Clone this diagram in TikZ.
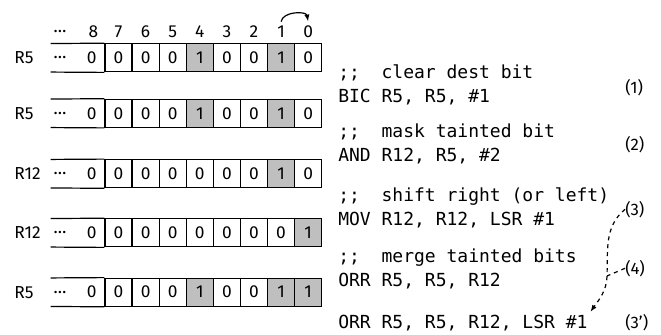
\documentclass[tikz,border=0pt]{standalone}
\usepackage{fontspec}
\setsansfont{Fira Sans}
\setmonofont{DejaVu Sans Mono}
\usetikzlibrary{arrows.meta,positioning,calc}
\tikzset{
    bitcell/.style={
        draw,
        line width=0.9pt,
        minimum width=20.3pt,
        minimum height=21pt,
        inner sep=0pt,
        font=\sffamily\fontsize{13}{15}\selectfont
    },
    lead/.style={
        minimum width=40.5pt,
        minimum height=21pt,
        inner sep=0pt
    },
    bitnum/.style={
        inner sep=1pt,
        font=\sffamily\fontsize{13}{15}\selectfont
    },
    reglbl/.style={
        anchor=west,
        inner sep=0pt,
        font=\sffamily\fontsize{13}{15}\selectfont
    },
    code/.style={
        anchor=west,
        align=left,
        inner sep=0pt,
        font=\ttfamily\fontsize{13.5}{18}\selectfont
    },
    steplbl/.style={
        anchor=west,
        inner sep=0pt,
        font=\sffamily\fontsize{12.5}{14}\selectfont
    },
    arrow/.style={
        -{Latex[length=1.8mm]},
        line width=0.9pt
    },
    dashedarrow/.style={
        -{Latex[length=1.8mm]},
        line width=0.9pt,
        dashed
    }
}

\begin{document}
\begin{tikzpicture}[x=0.75pt,y=-0.75pt]
\useasboundingbox (0,0) rectangle (661,335);

% bit numbers
\node[bitnum] (h-dots) at (60,31.7) {…};
\node[bitnum] (h-8) at (93.3,31.7) {8};
\foreach \b in {7,...,0}
    \node[bitnum] (h-\b) at ({321.7-27.09*(\b+0.5)},31.7) {\b};
\draw[arrow] ([yshift=2pt]h-1.north) to[bend left=80] ([yshift=2pt]h-0.north);

% registers
\foreach \r/\reg/\y/\bits in {
        1/R5/57.8/{0,0,0,1,0,0,1,0},
        2/R5/113.3/{0,0,0,1,0,0,1,0},
        3/R12/173.7/{0,0,0,0,0,0,1,0},
        4/R12/232.8/{0,0,0,0,0,0,0,1},
        5/R5/292.2/{0,0,0,1,0,0,1,1}} {
    \node[reglbl] (lbl\r) at (14,\y) {\reg};
    \node[lead] (lead\r) at (78,\y) {};
    \node[bitnum] (dots\r) at (60,\y) {…};
    \node[bitnum] (c\r-8) at (91.6,\y) {0};
    \foreach \v [count=\i from 0] in \bits {
        \pgfmathtruncatemacro\b{7-\i}
        \ifnum\v=1 \def\fc{black!25}\else\def\fc{white}\fi
        \node[bitcell, fill=\fc] (c\r-\b) at ({321.7-27.09*(\b+0.5)},\y) {\v};
    }
    \draw[line width=0.9pt] (lead\r.north west) -- (c\r-7.north west);
    \draw[line width=0.9pt] (lead\r.south west) -- (c\r-7.south west);
}

% instructions
\node[code] (ins1) at (338,84.7) {;;\ \ clear dest bit\\BIC R5, R5, \#1};
\node[code] (ins2) at (338,143.5) {;;\ \ mask tainted bit\\AND R12, R5, \#2};
\node[code] (ins3) at (338,208.3) {;;\ \ shift right (or left)\\MOV R12, R12, LSR \#1};
\node[code] (ins4) at (338,268.5) {;;\ \ merge tainted bits\\ORR R5, R5, R12};
\node[code] (ins5) at (338,322.7) {ORR R5, R5, R12, LSR \#1};

\node[steplbl] (s1) at (625,87.7) {(1)};
\node[steplbl] (s2) at (625,144.3) {(2)};
\node[steplbl] (s3) at (625,209.3) {(3)};
\node[steplbl] (s4) at (625,268.3) {(4)};
\node[steplbl] (s3p) at (625,322.7) {(3')};

\coordinate (join) at (607,276);
\draw[dashedarrow] (s3.west) to[out=-140,in=88] (join)
    to[out=-92,in=55] ([xshift=2pt,yshift=2pt]ins5.north east);
\draw[line width=0.9pt, dashed] (s4.west) -- (join);

\end{tikzpicture}
\end{document}
